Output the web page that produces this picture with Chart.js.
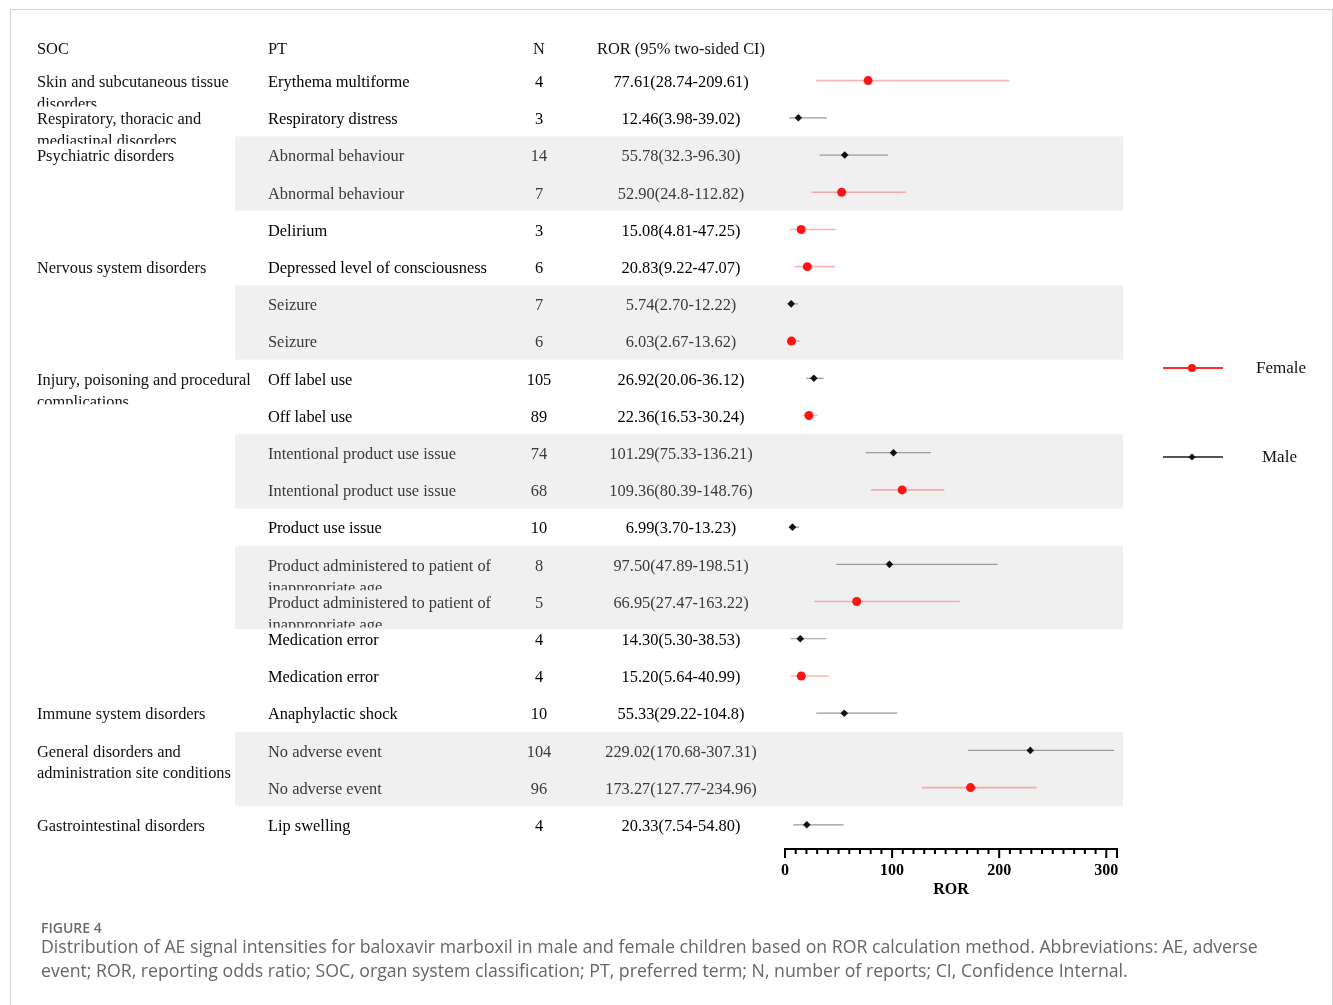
<!DOCTYPE html>
<html>
<head>
<meta charset="utf-8">
<title>Forest plot ROR</title>
<script src="https://cdn.jsdelivr.net/npm/chart.js@4.4.0/dist/chart.umd.min.js"></script>
<style>
  body { margin: 0; background: #fff; }
  #frame { position: absolute; left: 10px; top: 9px; width: 1321px; height: 1010px; border: 1px solid #d2d2d2; }
  canvas { position: absolute; left: 0; top: 0; }
</style>
</head>
<body>
<div id="frame"></div>
<canvas id="forestChart" width="1333" height="1005"></canvas>
<script>
const socLabels = [
  'Skin and subcutaneous tissue\ndisorders', 'Respiratory, thoracic and\nmediastinal disorders', 'Psychiatric disorders', '', '',
  'Nervous system disorders', '', '', 'Injury, poisoning and procedural\ncomplications', '', '', '', '', '', '', '', '',
  'Immune system disorders', 'General disorders and\nadministration site conditions', '', 'Gastrointestinal disorders'
];
const ptLabels = [
  'Erythema multiforme', 'Respiratory distress', 'Abnormal behaviour', 'Abnormal behaviour', 'Delirium',
  'Depressed level of consciousness', 'Seizure', 'Seizure', 'Off label use', 'Off label use',
  'Intentional product use issue', 'Intentional product use issue', 'Product use issue',
  'Product administered to patient of\ninappropriate age', 'Product administered to patient of\ninappropriate age',
  'Medication error', 'Medication error', 'Anaphylactic shock', 'No adverse event', 'No adverse event', 'Lip swelling'
];
const nReports = [4, 3, 14, 7, 3, 6, 7, 6, 105, 89, 74, 68, 10, 8, 5, 4, 4, 10, 104, 96, 4];
// kept as text so the table shows them exactly as printed
const rorValues = ['77.61', '12.46', '55.78', '52.90', '15.08', '20.83', '5.74', '6.03', '26.92', '22.36', '101.29',
  '109.36', '6.99', '97.50', '66.95', '14.30', '15.20', '55.33', '229.02', '173.27', '20.33'];
const ciLow = ['28.74', '3.98', '32.3', '24.8', '4.81', '9.22', '2.70', '2.67', '20.06', '16.53', '75.33',
  '80.39', '3.70', '47.89', '27.47', '5.30', '5.64', '29.22', '170.68', '127.77', '7.54'];
const ciHigh = ['209.61', '39.02', '96.30', '112.82', '47.25', '47.07', '12.22', '13.62', '36.12', '30.24', '136.21',
  '148.76', '13.23', '198.51', '163.22', '38.53', '40.99', '104.8', '307.31', '234.96', '54.80'];
const sex = ['F', 'M', 'M', 'F', 'F', 'F', 'M', 'F', 'M', 'F', 'M', 'F', 'M', 'M', 'F', 'M', 'F', 'M', 'M', 'F', 'M'];
const shadedRows = [[2, 3], [6, 7], [10, 11], [13, 14], [18, 19]];
const xTicks = [0, 100, 200, 300];
const xMax = 310;

const FEMALE = '#ff1414';
const MALE = '#111111';
const serif = '"Liberation Serif", "Times New Roman", serif';

function rows(s) {
  return sex.map((v, i) => i).filter(i => sex[i] === s);
}

// CI segments, one per row, split by null points
function ciData(s) {
  const out = [];
  rows(s).forEach(i => {
    out.push({ x: Number(ciLow[i]), y: i }, { x: Number(ciHigh[i]), y: i }, { x: null, y: null });
  });
  return out;
}

function pointData(s) {
  return rows(s).map(i => ({ x: Number(rorValues[i]), y: i }));
}

function inBand(i) {
  return shadedRows.some(([a, b]) => i >= a && i <= b);
}

// draws a cell; most wrapped labels get their second line cut like in the source figure
function drawCell(ctx, text, x, yc, align, cut = true) {
  const lines = text.split('\n');
  ctx.save();
  if (lines.length > 1 && cut) {
    ctx.beginPath();
    ctx.rect(0, yc - 20, 1333, 46);
    ctx.clip();
  }
  ctx.textAlign = align;
  const gap = cut ? 22 : 21;
  lines.forEach((l, k) => ctx.fillText(l, x, yc + 2 + k * gap));
  ctx.restore();
}

const tablePlugin = {
  id: 'tablePlugin',
  beforeDatasetsDraw(chart) {
    const { ctx, scales: { y } } = chart;
    ctx.save();
    ctx.fillStyle = '#f0f0f0';
    shadedRows.forEach(([a, b]) => {
      const top = y.getPixelForValue(a - 0.5);
      let bottom = y.getPixelForValue(b + 0.5);
      if (ptLabels[b].includes('\n')) bottom += 9;
      ctx.fillRect(235, top, 1123 - 235, bottom - top);
    });
    ctx.restore();
  },
  afterDraw(chart) {
    const { ctx, scales: { x, y }, chartArea } = chart;
    ctx.save();
    ctx.font = '16.4px ' + serif;
    ctx.textBaseline = 'middle';

    // header
    ctx.fillStyle = '#111';
    ctx.textAlign = 'left';
    ctx.fillText('SOC', 37, 50);
    ctx.fillText('PT', 268, 50);
    ctx.textAlign = 'center';
    ctx.fillText('N', 539, 50);
    ctx.fillText('ROR (95% two-sided CI)', 681, 50);

    ptLabels.forEach((pt, i) => {
      const yc = y.getPixelForValue(i);
      ctx.fillStyle = '#111';
      // the last wrapped SOC label sits in a taller cell, so it shows in full
      if (socLabels[i]) drawCell(ctx, socLabels[i], 37, yc, 'left', !socLabels[i].startsWith('General'));
      ctx.fillStyle = inBand(i) ? '#3a3a3a' : '#000';
      drawCell(ctx, pt, 268, yc, 'left');
      drawCell(ctx, String(nReports[i]), 539, yc, 'center');
      drawCell(ctx, rorValues[i] + '(' + ciLow[i] + '-' + ciHigh[i] + ')', 681, yc, 'center');
    });

    // minor / major ticks of the ROR axis
    const yAxis = chartArea.bottom;
    ctx.strokeStyle = '#000';
    ctx.lineWidth = 2;
    for (let v = 0; v <= xMax; v += 10) {
      const px = x.getPixelForValue(v);
      const len = (v % 100 === 0 || v === xMax) ? 9 : 5;
      ctx.beginPath();
      ctx.moveTo(px, yAxis);
      ctx.lineTo(px, yAxis + len);
      ctx.stroke();
    }

    // legend
    const legend = [
      { label: 'Female', color: FEMALE, line: '#ff3030', y: 368, style: 'circle', tx: 1256 },
      { label: 'Male', color: MALE, line: '#555', y: 457, style: 'rectRot', tx: 1262 }
    ];
    legend.forEach(l => {
      ctx.strokeStyle = l.line;
      ctx.lineWidth = 2;
      ctx.beginPath();
      ctx.moveTo(1163, l.y);
      ctx.lineTo(1223, l.y);
      ctx.stroke();
      ctx.fillStyle = l.color;
      Chart.helpers.drawPoint(ctx, { pointStyle: l.style, radius: l.style === 'circle' ? 4 : 3.5, borderWidth: 0 }, 1192, l.y);
      ctx.fillStyle = '#111';
      ctx.textAlign = 'left';
      ctx.font = '17px ' + serif;
      ctx.fillText(l.label, l.tx, l.y + 1);
    });

    // caption
    ctx.textAlign = 'left';
    ctx.fillStyle = '#6a6a6a';
    ctx.font = '600 14px "Open Sans", sans-serif';
    ctx.fillText('FIGURE 4', 41, 929);
    ctx.fillStyle = '#666';
    ctx.font = '17.7px "Open Sans", sans-serif';
    ctx.fillText('Distribution of AE signal intensities for baloxavir marboxil in male and female children based on ROR calculation method. Abbreviations: AE, adverse', 41, 948);
    ctx.fillText('event; ROR, reporting odds ratio; SOC, organ system classification; PT, preferred term; N, number of reports; CI, Confidence Internal.', 41, 972);
    ctx.restore();
  }
};

new Chart(document.getElementById('forestChart'), {
  type: 'scatter',
  data: {
    datasets: [
      {
        label: 'Female CI', data: ciData('F'), showLine: true, spanGaps: false,
        borderColor: 'rgba(255,40,40,0.35)', borderWidth: 1.6, pointRadius: 0, order: 2
      },
      {
        label: 'Male CI', data: ciData('M'), showLine: true, spanGaps: false,
        borderColor: '#9a9a9a', borderWidth: 1.2, pointRadius: 0, order: 2
      },
      {
        label: 'Female', data: pointData('F'), pointStyle: 'circle', pointRadius: 4.5,
        backgroundColor: FEMALE, borderWidth: 0, order: 1
      },
      {
        label: 'Male', data: pointData('M'), pointStyle: 'rectRot', pointRadius: 3.8,
        backgroundColor: MALE, borderWidth: 0, order: 1
      }
    ]
  },
  options: {
    responsive: false,
    devicePixelRatio: 1,
    animation: false,
    layout: { padding: { left: 785, right: 216, top: 62, bottom: 106 } },
    plugins: { legend: { display: false }, tooltip: { enabled: false } },
    scales: {
      x: {
        type: 'linear', min: 0, max: xMax,
        grid: { display: false, drawTicks: false },
        border: { display: true, width: 2, color: '#000' },
        afterBuildTicks(scale) { scale.ticks = xTicks.map(v => ({ value: v })); },
        ticks: {
          padding: 12, color: '#000', autoSkip: false, maxRotation: 0,
          font: { family: serif, size: 16, weight: 'bold' }
        },
        title: {
          display: true, text: 'ROR', color: '#000', padding: { top: 0, bottom: 0 },
          font: { family: serif, size: 16, weight: 'bold' }
        },
        afterFit(scale) { scale.height = 50; }
      },
      y: { type: 'linear', min: -0.5, max: 20.65, reverse: true, offset: false, display: false }
    }
  },
  plugins: [tablePlugin]
});
</script>
</body>
</html>
